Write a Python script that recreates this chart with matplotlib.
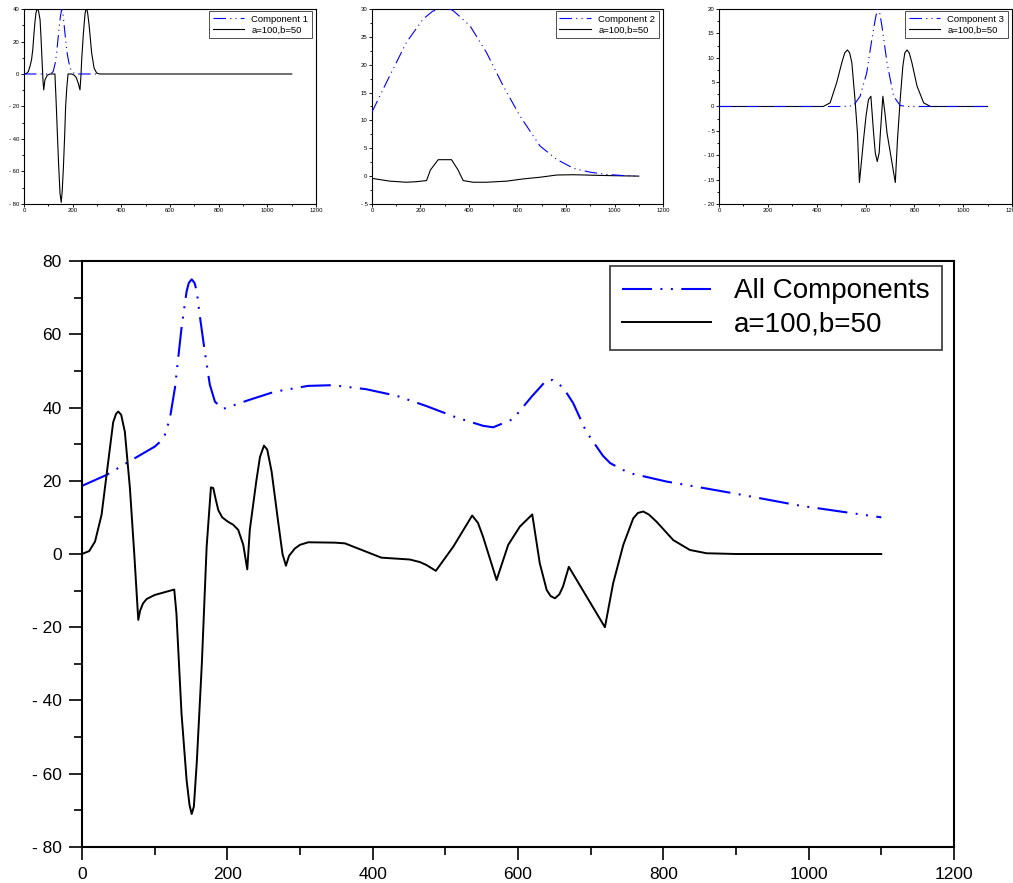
import matplotlib
matplotlib.use('Agg')
import matplotlib.pyplot as plt
from matplotlib.ticker import MultipleLocator, FuncFormatter

# ---- data ----
# small panel 1: component 1 and its transform
c1_x = [0, 100, 112, 120, 128, 134, 140, 145, 150, 155, 160, 165, 170, 176, 182, 189, 196, 210, 300]
c1_y = [0, 0, 0.3, 1.6, 6.5, 12.9, 22, 29.3, 36, 39.8, 37, 30, 22.5, 14, 8.8, 4, 1.6, 0, 0]
t1_x = [0, 10, 18, 25, 31, 36, 41, 45, 49, 53, 56, 60, 66, 70, 74, 78, 81, 86, 96, 107,
        127, 132, 137, 142, 148, 153, 157, 162, 167, 171, 176, 181, 196, 205, 214, 223, 230,
        234, 237, 244, 251, 255, 258, 262, 268, 278, 288, 299, 312, 1100]
t1_y = [0, 0.3, 1.6, 5, 8.8, 15, 25, 32, 37.5, 39.8, 40, 38.5, 33.4, 22, 8.8, -4, -9.8, -3.6, -0.7, 0,
        0, -17, -36.5, -55, -73.5, -79, -72, -57, -38, -20, -8, 0, 0, -0.6, -2, -5.7, -9.8,
        -1, 8.8, 25, 37.5, 39.8, 40, 37, 29.3, 12.9, 3.6, 0.5, 0, 0]

# small panel 2: component 2
c2_x = [0, 73, 142, 211, 250, 280, 300, 320, 335, 404, 472, 541, 610, 693, 762, 831, 900, 969, 1037, 1100]
c2_y = [11.5, 18, 24, 28.2, 29.6, 30, 30.1, 30, 29.7, 27, 22.2, 16.2, 10.8, 5.4, 3, 1.4, 0.7, 0.3, 0.1, 0]
t2_x = [0, 73, 142, 183, 225, 241, 273, 328, 355, 376, 417, 472, 555, 624, 693, 762, 831, 969, 1100]
t2_y = [-0.4, -0.9, -1.1, -1.0, -0.8, 1.1, 2.95, 2.95, 1.1, -0.8, -1.1, -1.1, -0.9, -0.5, -0.2, 0.2, 0.25, 0.1, 0]

# small panel 3: component 3
c3_x = [0, 500, 530, 551, 578, 605, 626, 640, 649, 658, 667, 688, 715, 742, 770, 1100]
c3_y = [0, 0, 0.05, 0.2, 2.1, 6.9, 13.8, 17.9, 20, 19.2, 16.6, 9, 2.1, 0.2, 0, 0]
t3_x = [0, 427, 455, 482, 503, 515, 526, 535, 544, 557, 567, 575, 584, 592, 602, 612, 622, 633,
        640, 648, 656, 660, 671, 680, 688, 705, 722, 731, 742, 753, 761, 770, 779, 790, 811,
        838, 866, 1100]
t3_y = [0, 0, 0.75, 4.9, 9, 11, 11.6, 11, 9, 1.4, -5.4, -15.6, -11, -6.8, -2, 1.4, 2.1, -5.4,
        -9.5, -11.3, -9.5, -6.1, 2.1, -1.5, -5.4, -10.5, -15.6, -6.8, 1.4, 8.3, 11, 11.6, 11, 9, 4.2,
        0.75, 0, 0]

# main panel: all components and the transform of the sum
all_x = [0, 34, 61, 100, 108, 114, 121, 128, 137, 144, 147, 151, 155, 158, 162, 169, 176, 183,
         194, 229, 265, 311, 345, 391, 433, 474, 515, 552, 566, 593, 619, 639, 648, 662, 676,
         694, 717, 727, 749, 758, 804, 896, 988, 1100]
all_y = [18.6, 21.6, 24.8, 29.3, 30.7, 32.5, 37, 45.4, 61.7, 71.7, 74, 75, 74, 71.7, 65.3, 55.3, 46.2, 41.6,
         39.6, 42, 44.3, 45.9, 46.1, 45, 43.2, 40.4, 37.3, 35, 34.6, 36.8, 43, 47.4, 47.5, 45.5, 41.2,
         33.4, 26.8, 24.8, 22.5, 21.9, 19.8, 16.6, 13.2, 10]
sum_x = [0, 10, 18, 27, 36, 43, 47, 50, 54, 59, 66, 72, 77.5, 80, 84, 89, 100, 127,
         130, 137, 144, 148, 151, 154, 158, 165, 171.6, 177.5, 180.7, 184, 187.6, 193, 201, 208,
         215, 222, 227.5, 231, 240, 245, 250.5, 255, 261, 270, 276, 280.7, 285, 293, 300, 311.5,
         348, 362, 412, 451, 465, 474, 487, 511, 537, 545, 552, 570.6, 586.6, 602.7, 619.7,
         630, 639.5, 645, 651, 657, 662, 670, 719.7, 731, 745, 758.6, 765, 772.4, 780, 790.8,
         813.7, 836.6, 859.6, 900, 1100]
sum_y = [0, 0.8, 3.4, 10.7, 25, 36, 38.3, 38.9, 38, 33.4, 18, 0, -18, -15.5, -13.5, -12.3, -11.2, -9.7,
         -16.2, -43.5, -61.7, -68.5, -71, -69, -57, -29.9, 2, 18.2, 18, 15, 12, 10, 8.8, 8,
         6.6, 2.5, -4.2, 6.6, 20, 26.5, 29.6, 28.5, 22.5, 8.8, 0, -3.2, -0.5, 1.5, 2.5, 3.2,
         3.1, 2.9, -1.0, -1.5, -2.2, -3, -4.6, 2, 10.5, 8.5, 4.7, -7.1, 2.5, 7.5, 10.8,
         -2.5, -9.8, -11.5, -12.1, -11, -8.9, -3.5, -20, -8, 2.5, 9.7, 11.2, 11.6, 10.8, 8.8,
         3.8, 1.1, 0.2, 0, 0]

plt.rcParams['font.family'] = ['Liberation Sans', 'DejaVu Sans']
plt.rcParams['lines.scale_dashes'] = False

BLUE = '#0000ff'


def scilab_fmt(v, pos):
    s = '%g' % v
    return s.replace('-', '- ')


def style_axes(ax, ymaj, ymin, fs, lw, tl, pad):
    ax.set_xlim(0, 1200)
    ax.xaxis.set_major_locator(MultipleLocator(200))
    ax.xaxis.set_minor_locator(MultipleLocator(100))
    ax.yaxis.set_major_locator(MultipleLocator(ymaj))
    ax.yaxis.set_minor_locator(MultipleLocator(ymin))
    ax.yaxis.set_major_formatter(FuncFormatter(scilab_fmt))
    ax.tick_params(which='both', direction='out', top=False, right=False,
                   width=lw * 0.8, labelsize=fs, pad=pad)
    ax.tick_params(which='major', length=tl)
    ax.tick_params(which='minor', length=tl * 0.6)
    for sp in ax.spines.values():
        sp.set_linewidth(lw)


fig = plt.figure(figsize=(10.13, 8.83), dpi=100)

small_dash = (0, (9, 3, 0.8, 3, 0.8, 3))
big_dash = (0, (21.6, 6.1, 1.4, 6.1, 1.4, 6.1))

panels = [
    ([0.0237, 0.769, 0.2883, 0.2208], c1_x, c1_y, t1_x, t1_y, 'Component 1', (-80, 40), 20, 10),
    ([0.3672, 0.769, 0.2873, 0.2208], c2_x, c2_y, t2_x, t2_y, 'Component 2', (-5, 30), 5, 2.5),
    ([0.7098, 0.769, 0.2892, 0.2208], c3_x, c3_y, t3_x, t3_y, 'Component 3', (-20, 20), 5, 2.5),
]
for rect, cx, cy, tx, ty, lab, ylim, ymaj, ymin in panels:
    ax = fig.add_axes(rect)
    lc, = ax.plot(cx, cy, color=BLUE, lw=0.8, linestyle=small_dash, zorder=3)
    lt, = ax.plot(tx, ty, color='black', lw=0.8, zorder=2)
    ax.set_ylim(*ylim)
    style_axes(ax, ymaj, ymin, 4.3, 0.8, 2.2, 1)
    leg = ax.legend([lc, lt], [lab, 'a=100,b=50'], loc='upper right',
                    bbox_to_anchor=(0.986, 0.99), borderaxespad=0, fontsize=6.8,
                    frameon=True, fancybox=False, handlelength=3.3, handletextpad=0.8,
                    labelspacing=0.2, borderpad=0.4)
    leg.get_frame().set_edgecolor('black')
    leg.get_frame().set_linewidth(0.6)

ax = fig.add_axes([0.0809, 0.0408, 0.8608, 0.6636])
la, = ax.plot(all_x, all_y, color=BLUE, lw=1.5, linestyle=big_dash)
ls, = ax.plot(sum_x, sum_y, color='black', lw=1.4)
ax.set_ylim(-80, 80)
style_axes(ax, 20, 10, 12.5, 1.5, 9.5, 5)
leg = ax.legend([la, ls], ['All Components', 'a=100,b=50'], loc='upper right',
                bbox_to_anchor=(0.986, 0.9915), borderaxespad=0, fontsize=20,
                frameon=True, fancybox=False, handlelength=3.2, handletextpad=0.8,
                labelspacing=0.25, borderpad=0.45)
leg.get_frame().set_edgecolor('black')
leg.get_frame().set_linewidth(1.2)

fig.savefig('out.png', dpi=100)
